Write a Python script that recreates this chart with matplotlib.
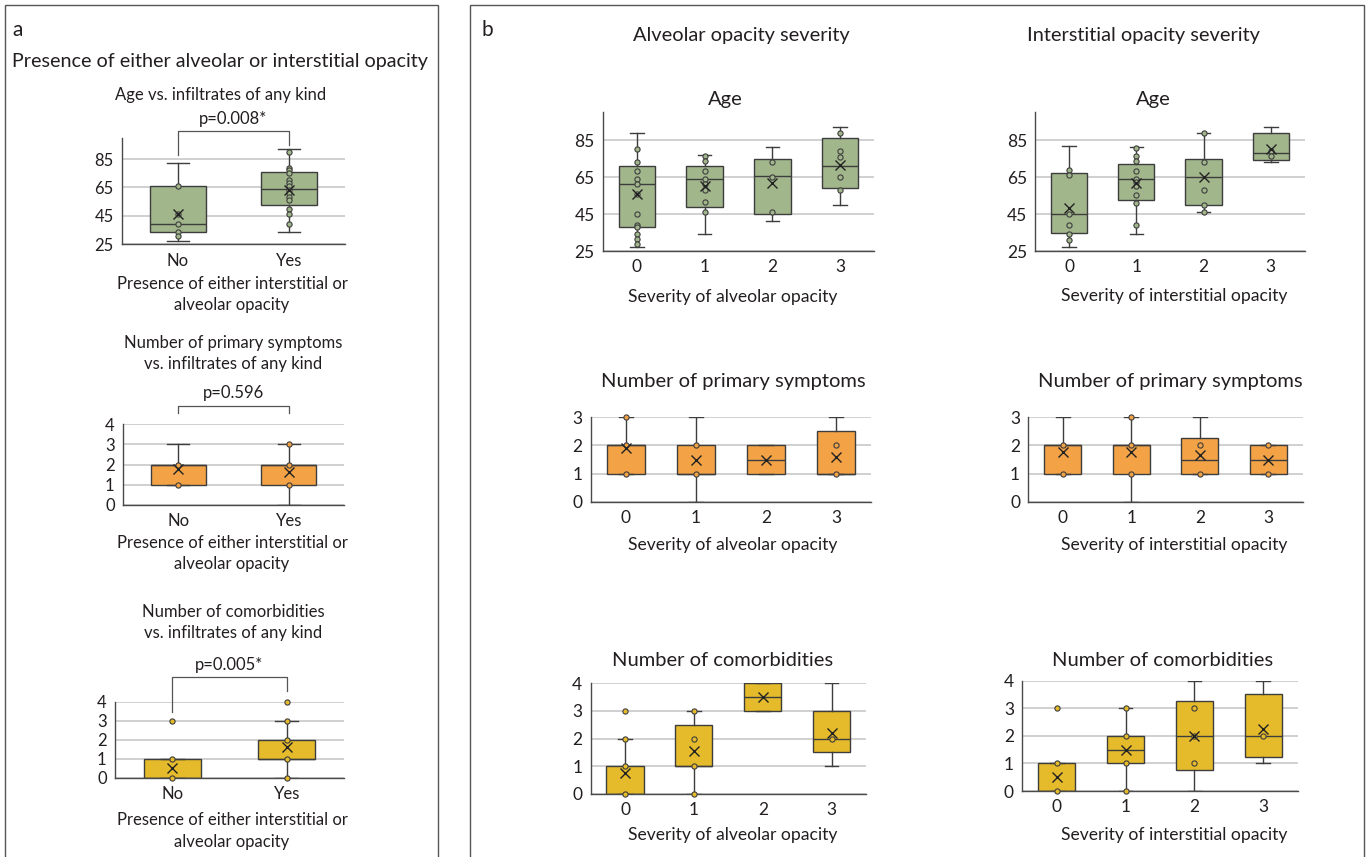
import matplotlib
matplotlib.use("Agg")
import matplotlib.pyplot as plt
from matplotlib.patches import Rectangle

plt.rcParams['font.family'] = ['Lato', 'DejaVu Sans']

W, H = 1367, 857
INK = '#231f20'
EDGE = '#3d3d3d'
GREEN = '#a2b68c'
ORANGE = '#f3a346'
YELLOW = '#e6bb2b'

# ---- panel a: whislo, q1, med, q3, whishi, mean ----
a_cats = ['No', 'Yes']
a_age_box = [[27, 34, 39, 66, 82, 46], [34, 53, 64, 76, 92, 63]]
a_age_pts = [[66, 46, 39, 34, 31],
             [90, 79, 77, 75, 70, 68, 66, 63, 61, 58, 56, 50, 46, 39]]
a_sym_box = [[1, 1, 2, 2, 3, 1.8], [0, 1, 2, 2, 3, 1.65]]
a_sym_pts = [[2, 1], [3, 2, 1]]
a_com_box = [[0, 0, 0, 1, 1, 0.5], [0, 1, 1, 2, 3, 1.6]]
a_com_pts = [[3, 1, 0], [4, 3, 2, 1, 0]]
a_pvals = ['p=0.008*', 'p=0.596', 'p=0.005*']

# ---- panel b ----
b_cats = ['0', '1', '2', '3']
b_age_alv_box = [[27, 38, 61, 71, 89, 56], [34, 49, 64, 71, 77, 60],
                 [41, 45, 65.5, 75, 81, 62], [50, 59, 71, 86, 92, 71.5]]
b_age_alv_pts = [[80, 73, 68, 64, 61, 56, 45, 39, 38, 34, 31.5, 29],
                 [76.5, 73.5, 68, 64, 61, 58, 51.5, 46],
                 [73, 65, 46],
                 [89, 79, 76, 65, 58]]
b_age_int_box = [[27, 34.5, 45, 67, 82, 48.5], [34, 52.5, 64, 72, 81, 61.5],
                 [46, 50, 65, 75, 89, 65], [73, 74, 78, 89, 92, 80]]
b_age_int_pts = [[69, 66, 45, 39, 34, 31],
                 [80.5, 76.5, 73.5, 68.5, 64, 62.5, 60, 55.5, 51, 39],
                 [89, 73, 58, 50, 46],
                 [79, 76.5]]
b_sym_alv_box = [[1, 1, 2, 2, 3, 1.9], [0, 1, 1, 2, 3, 1.5],
                 [1, 1, 1.5, 2, 2, 1.5], [1, 1, 1, 2.5, 3, 1.6]]
b_sym_alv_pts = [[3, 2, 1], [2, 1], [], [2, 1]]
b_sym_int_box = [[1, 1, 2, 2, 3, 1.75], [0, 1, 2, 2, 3, 1.75],
                 [1, 1, 1.5, 2.25, 3, 1.67], [1, 1, 1.5, 2, 2, 1.5]]
b_sym_int_pts = [[2, 1], [3, 2, 1], [2, 1], [2, 1]]
b_com_alv_box = [[0, 0, 0, 1, 2, 0.75], [0, 1, 1, 2.5, 3, 1.55],
                 [3, 3, 3.5, 4, 4, 3.5], [1, 1.5, 2, 3, 4, 2.2]]
b_com_alv_pts = [[3, 2, 1, 0], [3, 2, 1, 0], [], [2]]
b_com_int_box = [[0, 0, 0, 1, 1, 0.5], [0, 1, 1.5, 2, 3, 1.5],
                 [0, 0.75, 2, 3.25, 4, 2], [1, 1.25, 2, 3.5, 4, 2.25]]
b_com_int_pts = [[3, 1, 0], [3, 2, 1, 0], [3, 2, 1], [2]]

fig = plt.figure(figsize=(W / 100, H / 100), dpi=100)


def txt(x, y, s, size, **kw):
    kw.setdefault('ha', 'center')
    fig.text(x / W, 1 - y / H, s, fontsize=size, color=INK, va='center', **kw)


def add_ax(x0, x1, y0, y1):
    return fig.add_axes([x0 / W, 1 - y1 / H, (x1 - x0) / W, (y1 - y0) / H])


def boxplot(ax, box, pts, cats, color, ylim, yticks, width, fs):
    stats = [dict(whislo=b[0], q1=b[1], med=b[2], q3=b[3], whishi=b[4], mean=b[5])
             for b in box]
    pos = list(range(len(cats)))
    ax.bxp(stats, positions=pos, widths=width, capwidths=0.2, patch_artist=True,
           showmeans=True, showfliers=False,
           boxprops=dict(facecolor=color, edgecolor=EDGE, linewidth=1.0),
           medianprops=dict(color=EDGE, linewidth=1.0),
           whiskerprops=dict(color=EDGE, linewidth=1.0),
           capprops=dict(color=EDGE, linewidth=1.0),
           meanprops=dict(marker='x', markeredgecolor='#222222', markersize=7,
                          markeredgewidth=1.0, zorder=6))
    for i, p in enumerate(pts):
        if p:
            ax.scatter([i] * len(p), p, s=14, facecolor=color, edgecolor=EDGE,
                       linewidth=0.8, zorder=5, clip_on=False)
    ax.set_xlim(-0.5, len(cats) - 0.5)
    ax.set_ylim(*ylim)
    ax.set_xticks(pos, cats)
    ax.set_yticks(yticks)
    ax.yaxis.grid(True, color='#cdcdcd', linewidth=1.3)
    ax.set_axisbelow(True)
    for s in ['top', 'right']:
        ax.spines[s].set_visible(False)
    for s in ['left', 'bottom']:
        ax.spines[s].set_color('#4a4a4a')
        ax.spines[s].set_linewidth(1.0)
    ax.tick_params(length=0, labelsize=fs, colors=INK, pad=6)
    ax.patch.set_alpha(0)


def bracket(ax, ytop, yl, yr, ptext, ytext):
    ax.plot([0, 0, 1, 1], [yl, ytop, ytop, yr], color='#555555', lw=0.9, clip_on=False)
    ax.text(0.5, ytext, ptext, ha='center', va='center', fontsize=12, color=INK)


# panel frames
fig.add_artist(Rectangle((5 / W, -0.01), 433 / W, 1 - 5 / H + 0.01, transform=fig.transFigure,
                         fill=False, edgecolor='#555555', linewidth=1.0))
fig.add_artist(Rectangle((470 / W, -0.01), 894 / W, 1 - 5 / H + 0.01, transform=fig.transFigure,
                         fill=False, edgecolor='#555555', linewidth=1.0))

# ---------------- panel a ----------------
txt(18, 30, 'a', 15)
txt(220, 62, 'Presence of either alveolar or interstitial opacity', 14.2)

FA = 12
ax = add_ax(122, 345, 137.7, 244.3)
boxplot(ax, a_age_box, a_age_pts, a_cats, GREEN, (25, 100), [25, 45, 65, 85], 0.5, FA)
bracket(ax, 104.5, 88, 95, a_pvals[0], 112.9)
txt(221, 95, 'Age vs. infiltrates of any kind', FA)
txt(232, 284, 'Presence of either interstitial or', FA)
txt(232, 305, 'alveolar opacity', FA)

ax = add_ax(123, 344, 424.3, 505)
boxplot(ax, a_sym_box, a_sym_pts, a_cats, ORANGE, (0, 4), [0, 1, 2, 3, 4], 0.5, FA)
bracket(ax, 4.9, 4.55, 4.55, a_pvals[1], 5.55)
txt(233, 343, 'Number of primary symptoms', FA)
txt(233, 364, 'vs. infiltrates of any kind', FA)
txt(232, 543, 'Presence of either interstitial or', FA)
txt(232, 564, 'alveolar opacity', FA)

ax = add_ax(115, 344, 702, 777.7)
boxplot(ax, a_com_box, a_com_pts, a_cats, YELLOW, (0, 4), [0, 1, 2, 3, 4], 0.5, FA)
bracket(ax, 5.3, 3.46, 4.6, a_pvals[2], 5.93)
txt(233, 612, 'Number of comorbidities', FA)
txt(233, 633, 'vs. infiltrates of any kind', FA)
txt(232, 820, 'Presence of either interstitial or', FA)
txt(232, 842, 'alveolar opacity', FA)

# ---------------- panel b ----------------
txt(487, 30, 'b', 15)
txt(741, 35, 'Alveolar opacity severity', 14.4)
txt(1143, 35, 'Interstitial opacity severity', 14.4)

xl_alv = 'Severity of alveolar opacity'
xl_int = 'Severity of interstitial opacity'
FB = 12.6

ax = add_ax(603, 874, 112.3, 251)
boxplot(ax, b_age_alv_box, b_age_alv_pts, b_cats, GREEN, (25, 100), [25, 45, 65, 85], 0.54, 12.5)
txt(725, 100, 'Age', 14.5)
txt(733, 297, xl_alv, FB)

ax = add_ax(1035.4, 1304.5, 112.3, 251)
boxplot(ax, b_age_int_box, b_age_int_pts, b_cats, GREEN, (25, 100), [25, 45, 65, 85], 0.54, 12.5)
txt(1153, 100, 'Age', 14.5)
txt(1174, 296, xl_int, FB)

ax = add_ax(590.6, 871, 417.3, 501.7)
boxplot(ax, b_sym_alv_box, b_sym_alv_pts, b_cats, ORANGE, (0, 3), [0, 1, 2, 3], 0.54, 12.5)
txt(733, 382, 'Number of primary symptoms', 14.5)
txt(733, 545, xl_alv, FB)

ax = add_ax(1028.4, 1302.6, 417.3, 501.7)
boxplot(ax, b_sym_int_box, b_sym_int_pts, b_cats, ORANGE, (0, 3), [0, 1, 2, 3], 0.54, 12.5)
txt(1170, 382, 'Number of primary symptoms', 14.5)
txt(1174, 545, xl_int, FB)

ax = add_ax(590.6, 866, 683.3, 794)
boxplot(ax, b_com_alv_box, b_com_alv_pts, b_cats, YELLOW, (0, 4), [0, 1, 2, 3, 4], 0.54, 12.5)
txt(723, 661, 'Number of comorbidities', 14.5)
txt(733, 835, xl_alv, FB)

ax = add_ax(1022.3, 1297.7, 680.7, 791)
boxplot(ax, b_com_int_box, b_com_int_pts, b_cats, YELLOW, (0, 4), [0, 1, 2, 3, 4], 0.54, 12.5)
txt(1163, 660, 'Number of comorbidities', 14.5)
txt(1174, 835, xl_int, FB)

fig.savefig('out.png', dpi=100)
